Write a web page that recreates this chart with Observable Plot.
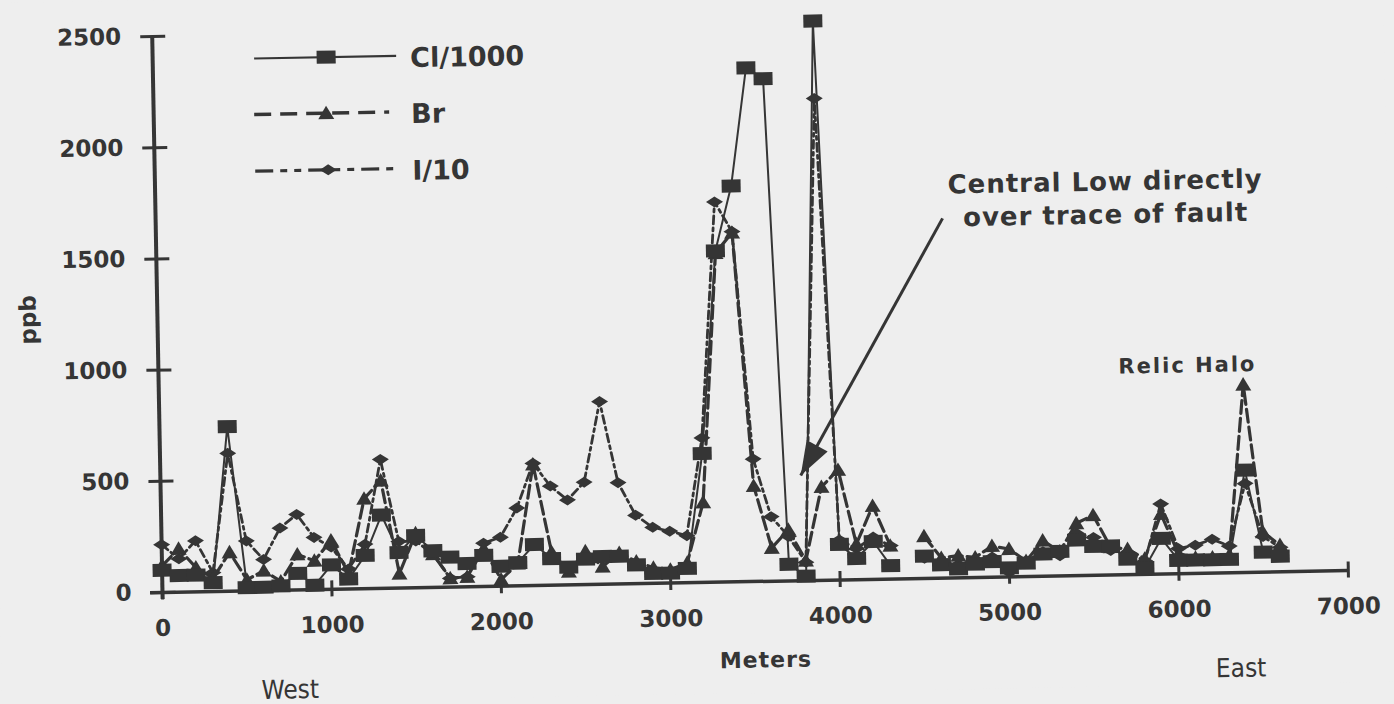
<!DOCTYPE html>
<html>
<head>
<meta charset="utf-8">
<script src="https://cdn.jsdelivr.net/npm/d3@7"></script>
<script src="https://cdn.jsdelivr.net/npm/@observablehq/plot@0.6"></script>
<style>
  html, body { margin: 0; padding: 0; background: #eeeeee; overflow: hidden; }
  #wrap { position: relative; width: 1394px; height: 704px; background: #eeeeee;
          transform: rotate(-1.06deg); transform-origin: 162px 592px; }
  #wrap svg { position: absolute; left: 0; top: 0; }
</style>
</head>
<body>
<div id="wrap"></div>
<script>
// ---------- data (ppb) ----------
const meters = [0,100,200,300,400,500,600,700,800,900,1000,1100,1200,1300,1400,1500,1600,1700,1800,1900,
  2000,2100,2200,2300,2400,2500,2600,2700,2800,2900,3000,3100,3200,3300,3400,3500,3600,3700,3800,3900,
  4000,4100,4200,4300,4400,4500,4600,4700,4800,4900,5000,5100,5200,5300,5400,5500,5600,5700,5800,5900,
  6000,6100,6200,6300,6400,6500,6600];
const cl1000 = [100,75,75,40,740,15,15,20,75,20,110,45,150,330,160,235,165,135,105,140,
  90,105,185,120,80,115,125,125,85,45,45,65,580,1490,1780,2310,2260,75,20,2515,
  160,95,170,60,null,100,60,40,60,70,40,60,100,110,160,130,130,70,30,160,
  60,60,60,60,460,90,70];
const br = [120,195,110,60,175,50,90,40,160,130,220,70,405,485,65,245,150,40,45,170,
  30,100,545,150,60,150,80,140,100,70,60,90,360,1480,1570,430,150,230,90,420,
  495,160,330,150,null,190,90,100,90,140,125,70,160,110,235,270,125,115,70,270,
  90,70,70,80,845,180,120];
const i10 = [215,150,230,85,620,225,140,280,340,235,190,90,200,580,210,210,150,40,45,195,
  220,350,550,446,382,461,822,456,308,252,233,212,650,1710,1575,551,290,200,82,2167,
  180,140,190,150,null,90,70,60,80,90,20,70,110,90,190,170,110,100,60,315,
  113,127,152,120,400,160,110];
const seriesNames = ["Cl/1000", "Br", "I/10"];
const xTicks = [0,1000,2000,3000,4000,5000,6000,7000];
const yTicks = [0,500,1000,1500,2000,2500];

// annotations (data units)
const noteLabels = ["Central Low directly\nover trace of fault", "Relic Halo"];
const noteMeters = [5607, 6073];
const notePpb = [1702, 935];
const arrowMeters = [4644, 3779];
const arrowPpb = [1617, 473];

// ---------- styling ----------
const INK = "#353535";
const FONT = "'DejaVu Sans', Verdana, sans-serif";
const NARROW = "'Liberation Sans Narrow', 'DejaVu Sans Condensed', 'Liberation Sans', sans-serif";

const rows = meters.map((m, k) => ({
  m, cl: cl1000[k] ?? NaN, br: br[k] ?? NaN, io: i10[k] ?? NaN
}));

const sym = {
  square:   {draw(c) { c.rect(-9.5, -6.5, 19, 13); }},
  triangle: {draw(c) { c.moveTo(0, -7.5); c.lineTo(8, 6); c.lineTo(-8, 6); c.closePath(); }},
  diamond:  {draw(c) { c.moveTo(0, -5.5); c.lineTo(8.5, 0); c.lineTo(0, 5.5); c.lineTo(-8.5, 0); c.closePath(); }},
  vtick:    {draw(c) { c.moveTo(0, -9); c.lineTo(0, 7); }},
  htick:    {draw(c) { c.moveTo(-12, 0); c.lineTo(13, 0); }}
};

const xDomain = [0, 7000], yDomain = [0, 2500];
const mL = 162, mR = 46, mT = 36, mB = 112, W = 1394, H = 704;
const xs = d3.scaleLinear(xDomain, [mL, W - mR]);
const ys = d3.scaleLinear(yDomain, [H - mB, mT]);
const arrow = {m1: arrowMeters[0], v1: arrowPpb[0], m2: arrowMeters[1], v2: arrowPpb[1]};
const ang = Math.atan2(ys(arrow.v2) - ys(arrow.v1), xs(arrow.m2) - xs(arrow.m1));
const headSym = {draw(c) {
  const L = 34, hw = 12, ca = Math.cos(ang), sa = Math.sin(ang);
  c.moveTo(0, 0);
  c.lineTo(-L * ca - hw * sa, -L * sa + hw * ca);
  c.lineTo(-L * ca + hw * sa, -L * sa - hw * ca);
  c.closePath();
}};
const notes = noteLabels.map((label, k) => ({label, m: noteMeters[k], v: notePpb[k]}));
const zero = () => 0;
const ident = d => d;

const plot = Plot.plot({
  width: W, height: H,
  marginLeft: mL, marginRight: mR, marginTop: mT, marginBottom: mB,
  x: {domain: xDomain, axis: null},
  y: {domain: yDomain, axis: null},
  style: {background: "transparent", fontFamily: FONT, color: INK, overflow: "visible"},
  marks: [
    Plot.ruleY([0], {stroke: INK, strokeWidth: 3.5, insetLeft: -12}),
    Plot.ruleX([0], {stroke: INK, strokeWidth: 4, insetBottom: -7}),
    Plot.dot(xTicks, {x: ident, y: zero, symbol: sym.vtick, fill: "none", stroke: INK, strokeWidth: 3}),
    Plot.dot(yTicks, {x: zero, y: ident, symbol: sym.htick, fill: "none", stroke: INK, strokeWidth: 3}),
    Plot.text(xTicks, {x: ident, y: zero, text: d => String(d), dy: 36, textAnchor: "middle",
      fontSize: 23, fontWeight: "bold", fill: INK}),
    Plot.text(yTicks, {x: zero, y: ident, text: d => String(d), dx: -31, textAnchor: "end",
      fontSize: 23, fontWeight: "bold", fill: INK}),

    Plot.line(rows, {x: "m", y: "io", stroke: INK, strokeWidth: 2.8, strokeDasharray: "8,4,3,4"}),
    Plot.line(rows, {x: "m", y: "br", stroke: INK, strokeWidth: 3.2, strokeDasharray: "13,5"}),
    Plot.line(rows, {x: "m", y: "cl", stroke: INK, strokeWidth: 2}),
    Plot.dot(rows, {x: "m", y: "io", symbol: sym.diamond, fill: INK}),
    Plot.dot(rows, {x: "m", y: "br", symbol: sym.triangle, fill: INK}),
    Plot.dot(rows, {x: "m", y: "cl", symbol: sym.square, fill: INK}),

    Plot.link([arrow], {x1: "m1", y1: "v1", x2: "m2", y2: "v2", stroke: INK, strokeWidth: 3}),
    Plot.dot([arrow], {x: "m2", y: "v2", symbol: headSym, fill: INK}),
    Plot.text(notes.slice(0, 1), {x: "m", y: "v", text: "label", fontSize: 26, fontWeight: "bold",
      lineHeight: 1.27, textAnchor: "middle", lineAnchor: "middle", fill: INK}),
    Plot.text(notes.slice(1), {x: "m", y: "v", text: "label", fontSize: 21, fontWeight: "bold",
      textAnchor: "middle", lineAnchor: "middle", fill: INK}),

    Plot.text(["ppb"], {frameAnchor: "left", dx: -129, dy: 3, rotate: -90, textAnchor: "middle",
      lineAnchor: "middle", fontSize: 23, fontWeight: "bold", fill: INK}),
    Plot.text(["Meters"], {frameAnchor: "bottom", dx: 9, dy: 79, textAnchor: "middle",
      lineAnchor: "middle", fontSize: 22, fontWeight: "bold", fill: INK}),
    Plot.text(["West"], {frameAnchor: "bottom-left", dx: 126, dy: 100, textAnchor: "middle",
      lineAnchor: "middle", fontSize: 26, fontFamily: NARROW, fill: INK}),
    Plot.text(["East"], {frameAnchor: "bottom-right", dx: -109, dy: 96, textAnchor: "middle",
      lineAnchor: "middle", fontSize: 26, fontFamily: NARROW, fill: INK})
  ]
});

const wrap = document.getElementById("wrap");
wrap.appendChild(plot);
d3.select(plot).selectAll("text").filter(function () { return /Central|over trace/.test(this.textContent); })
  .style("letter-spacing", "1px");
d3.select(plot).selectAll("text").filter(function () { return /Relic Halo/.test(this.textContent); })
  .style("letter-spacing", "2px");
d3.select(plot).selectAll("text").filter(function () { return this.textContent === "Meters"; })
  .style("letter-spacing", "1px");

// ---------- legend (overlay) ----------
const leg = d3.select(wrap).append("svg").attr("width", W).attr("height", H)
  .style("pointer-events", "none");
const legRows = [
  {name: seriesNames[0], y: 60.3, x1: 264, x2: 406, mx: 336, dash: null, sw: 2.2, s: sym.square},
  {name: seriesNames[1], y: 116.3, x1: 263, x2: 398, mx: 335, dash: "17,9", sw: 3.4, s: sym.triangle},
  {name: seriesNames[2], y: 173, x1: 263, x2: 403, mx: 336, dash: "18,7,7,7,7,7", sw: 3.2, s: sym.diamond}
];
legRows.forEach(r => {
  leg.append("line").attr("x1", r.x1).attr("x2", r.x2).attr("y1", r.y).attr("y2", r.y)
    .attr("stroke", INK).attr("stroke-width", r.sw).attr("stroke-dasharray", r.dash);
  leg.append("path").attr("d", d3.symbol(r.s)()).attr("transform", `translate(${r.mx},${r.y})`).attr("fill", INK);
  leg.append("text").attr("x", 420).attr("y", r.y + 2).attr("dominant-baseline", "central")
    .attr("font-family", FONT).attr("font-weight", "bold").attr("font-size", 27).attr("fill", INK)
    .text(r.name);
});
</script>
</body>
</html>
